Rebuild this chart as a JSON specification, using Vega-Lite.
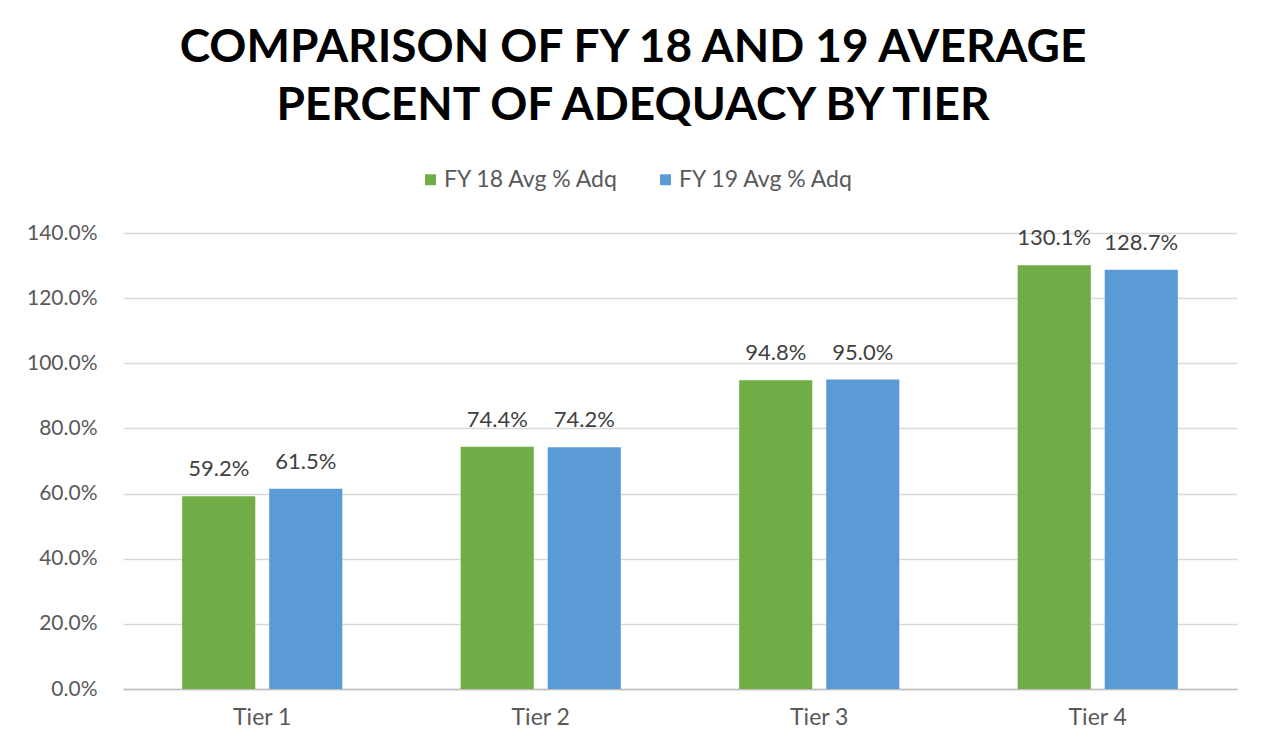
{
  "$schema": "https://vega.github.io/schema/vega-lite/v6.json",
  "autosize": {"type": "none"},
  "padding": {"left": 123, "top": 233, "right": 28, "bottom": 67},
  "width": 1114,
  "height": 456,
  "background": "white",
  "title": {
    "text": ["COMPARISON OF FY 18 AND 19 AVERAGE", "PERCENT OF ADEQUACY BY TIER"],
    "font": "Lato",
    "fontSize": 46,
    "fontWeight": "bold",
    "lineHeight": 58,
    "color": "#000000",
    "anchor": "middle",
    "dx": -47,
    "offset": 38
  },
  "data": {
    "values": [
      {"tier": "Tier 1", "series": "FY 18 Avg % Adq", "value": 0.592},
      {"tier": "Tier 1", "series": "FY 19 Avg % Adq", "value": 0.615},
      {"tier": "Tier 2", "series": "FY 18 Avg % Adq", "value": 0.744},
      {"tier": "Tier 2", "series": "FY 19 Avg % Adq", "value": 0.742},
      {"tier": "Tier 3", "series": "FY 18 Avg % Adq", "value": 0.948},
      {"tier": "Tier 3", "series": "FY 19 Avg % Adq", "value": 0.950},
      {"tier": "Tier 4", "series": "FY 18 Avg % Adq", "value": 1.301},
      {"tier": "Tier 4", "series": "FY 19 Avg % Adq", "value": 1.287}
    ]
  },
  "encoding": {
    "x": {
      "field": "tier",
      "type": "nominal",
      "title": null,
      "scale": {"paddingInner": 0.425, "paddingOuter": 0.2125},
      "axis": {
        "labelAngle": 0,
        "labelFont": "Lato",
        "labelFontSize": 23,
        "labelColor": "#595959",
        "labelPadding": 17,
        "ticks": false,
        "domainColor": "#bfbfbf",
        "domainWidth": 1.5,
        "grid": false
      }
    },
    "xOffset": {
      "field": "series",
      "type": "nominal",
      "scale": {"paddingInner": 0.16, "paddingOuter": 0}
    },
    "y": {
      "field": "value",
      "type": "quantitative",
      "title": null,
      "scale": {"domain": [0, 1.4], "nice": false},
      "axis": {
        "values": [0, 0.2, 0.4, 0.6, 0.8, 1.0, 1.2, 1.4],
        "format": ".1%",
        "labelFont": "Lato",
        "labelFontSize": 21,
        "labelColor": "#595959",
        "labelPadding": 26,
        "ticks": false,
        "domain": false,
        "gridColor": "#d9d9d9",
        "gridWidth": 1.5
      }
    }
  },
  "layer": [
    {
      "mark": {"type": "bar"},
      "encoding": {
        "color": {
          "field": "series",
          "type": "nominal",
          "scale": {"domain": ["FY 18 Avg % Adq", "FY 19 Avg % Adq"], "range": ["#70AD47", "#5B9BD5"]},
          "legend": {
            "orient": "none",
            "legendX": 296,
            "legendY": -65,
            "direction": "horizontal",
            "title": null,
            "symbolType": "square",
            "symbolSize": 121,
            "symbolStrokeWidth": 0,
            "labelFont": "Lato",
            "labelFontSize": 23,
            "labelLimit": 400,
            "labelColor": "#595959",
            "labelOffset": 2,
            "columnPadding": 34
          }
        }
      }
    },
    {
      "mark": {"type": "text", "baseline": "alphabetic", "dy": -20, "font": "Lato", "fontSize": 22, "color": "#404040"},
      "encoding": {
        "text": {"field": "value", "type": "quantitative", "format": ".1%"}
      }
    }
  ],
  "config": {
    "view": {"stroke": null}
  }
}
